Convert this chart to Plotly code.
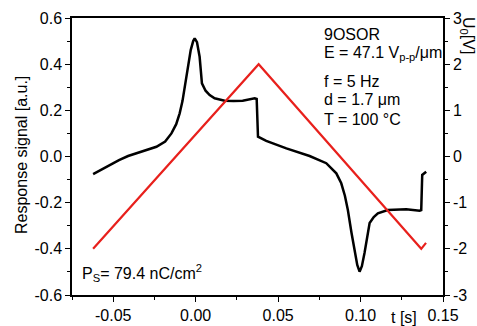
import plotly.graph_objects as go

# ---- data ----
t_signal = [-0.0622, -0.057, -0.052, -0.0465, -0.0410, -0.032, -0.0238, -0.0185, -0.0147, -0.0118,
            -0.0097, -0.0080, -0.0067, -0.0045, -0.0030, -0.0015, -0.0006, 0.0008, 0.0024, 0.0038,
            0.0060, 0.0085, 0.0115, 0.0176, 0.0230, 0.0285, 0.0330, 0.0358, 0.0370, 0.0378,
            0.0428, 0.0550, 0.0691, 0.0792, 0.0853, 0.0883, 0.0905, 0.0923, 0.0945, 0.0964,
            0.0980, 0.0994, 0.1008, 0.1024, 0.1040, 0.1055, 0.1080, 0.1105, 0.1165, 0.1277,
            0.1358, 0.1368, 0.1374, 0.1398]
response = [-0.076, -0.055, -0.037, -0.016, 0.002, 0.022, 0.042, 0.065, 0.100, 0.140,
            0.187, 0.240, 0.302, 0.395, 0.461, 0.500, 0.512, 0.495, 0.432, 0.317,
            0.285, 0.266, 0.252, 0.242, 0.240, 0.242, 0.248, 0.252, 0.249, 0.086,
            0.068, 0.035, 0.002, -0.029, -0.073, -0.116, -0.170, -0.232, -0.330, -0.405,
            -0.470, -0.499, -0.475, -0.418, -0.340, -0.288, -0.262, -0.246, -0.232, -0.229,
            -0.235, -0.232, -0.080, -0.066]

t_voltage = [-0.0622, 0.0382, 0.1368, 0.1397]
voltage = [-2.0, 2.0, -2.0, -1.87]

x_ticks = [-0.05, 0.0, 0.05, 0.10, 0.15]
x_tick_labels = ["-0.05", "0.00", "0.05", "0.10", "0.15"]
y_ticks = [-0.6, -0.4, -0.2, 0.0, 0.2, 0.4, 0.6]
y_tick_labels = ["-0.6", "-0.4", "-0.2", "0.0", "0.2", "0.4", "0.6"]
y2_ticks = [-3, -2, -1, 0, 1, 2, 3]
y2_tick_labels = ["-3", "-2", "-1", "0", "1", "2", "3"]

FONT = "Liberation Sans, Arial, sans-serif"
fs = 16

fig = go.Figure()
fig.add_trace(go.Scatter(x=t_signal, y=response, mode="lines",
                         line=dict(color="black", width=2.5), yaxis="y"))
fig.add_trace(go.Scatter(x=t_voltage, y=voltage, mode="lines",
                         line=dict(color="#e8201c", width=2.2), yaxis="y2"))

axis_common = dict(showline=True, linecolor="black", linewidth=1.5, ticks="outside",
                   ticklen=5, tickwidth=1.2, tickcolor="black", showgrid=False, zeroline=False,
                   automargin=False,
                   tickfont=dict(family=FONT, size=fs, color="black"))

fig.update_layout(
    width=477, height=326,
    margin=dict(l=72, r=34, t=18, b=31),
    paper_bgcolor="white", plot_bgcolor="white",
    showlegend=False,
    font=dict(family=FONT, size=fs, color="black"),
    xaxis=dict(range=[-0.075, 0.15], tickvals=x_ticks, ticktext=x_tick_labels,
               mirror=True, minor=dict(dtick=0.025, tick0=0, ticks="outside", ticklen=3,
                                       tickcolor="black"), **axis_common),
    yaxis=dict(range=[-0.6, 0.6], tickvals=y_ticks, ticktext=y_tick_labels,
               minor=dict(dtick=0.1, tick0=0, ticks="outside", ticklen=3, tickcolor="black"),
               **axis_common),
    yaxis2=dict(range=[-3, 3], tickvals=y2_ticks, ticktext=y2_tick_labels, overlaying="y",
                side="right", minor=dict(dtick=0.5, tick0=0, ticks="outside", ticklen=3,
                                         tickcolor="black"), **axis_common),
)

ann = [
    dict(text="Response signal [a.u.]", x=21, y=155, textangle=-90),
    dict(text="U<sub>0</sub>[V]", x=468, y=35, textangle=90),
    dict(text="t [s]", x=404, y=317),
]
for a in ann:
    fig.add_annotation(text=a["text"], xref="paper", yref="paper",
                       x=(a["x"] - 72) / 371, y=(295 - a["y"]) / 277,
                       xanchor="center", yanchor="middle", showarrow=False,
                       textangle=a.get("textangle", 0),
                       font=dict(family=FONT, size=fs, color="black"))

info = [
    ("9OSOR", 0.0764, 0.530),
    ("E = 47.1 V<sub>p-p</sub>/μm", 0.0764, 0.448),
    ("f = 5 Hz", 0.0764, 0.327),
    ("d = 1.7 μm", 0.0764, 0.245),
    ("T = 100 °C", 0.0764, 0.162),
    ("P<sub>S</sub>= 79.4 nC/cm<sup>2</sup>", -0.0703, -0.504),
]
for txt, x, y in info:
    fig.add_annotation(text=txt, x=x, y=y, xref="x", yref="y", xanchor="left",
                       yanchor="middle", showarrow=False,
                       font=dict(family=FONT, size=fs, color="black"))

fig.write_html("out.html", config={"displayModeBar": False},
               post_script="document.body.style.margin='0px';")
